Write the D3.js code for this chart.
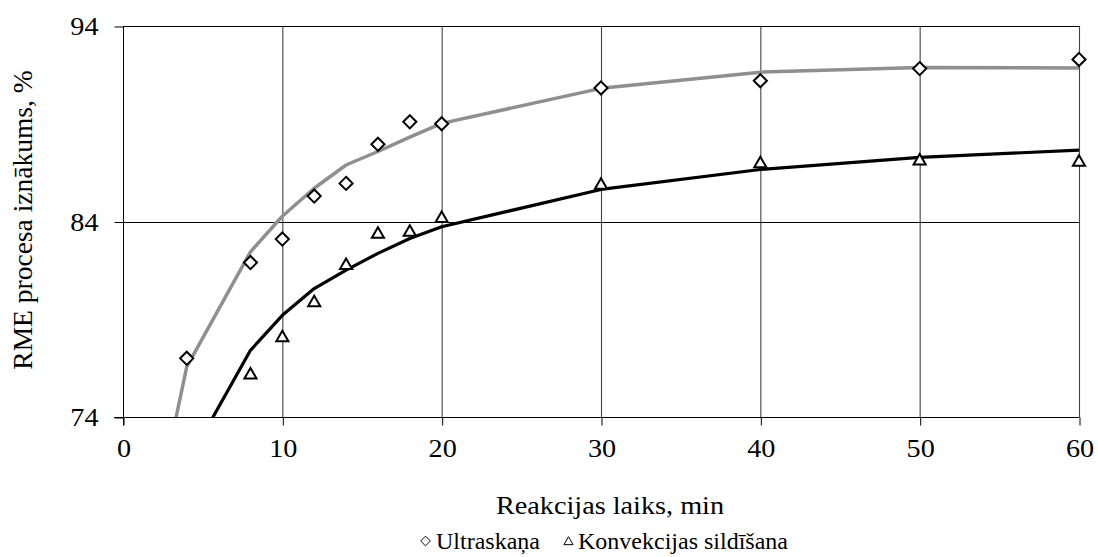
<!DOCTYPE html>
<html>
<head>
<meta charset="utf-8">
<script src="https://cdn.jsdelivr.net/npm/d3@7"></script>
<style>
  html, body { margin: 0; padding: 0; background: #fff; }
  svg { display: block; }
  text { font-family: "Liberation Serif", "Times New Roman", serif; fill: #000; }
</style>
</head>
<body>
<svg id="chart" width="1098" height="557"></svg>
<script>
// Measured yields (%) at each reaction time (min)
const timeUltra = [4, 8, 10, 12, 14, 16, 18, 20, 30, 40, 50, 60];
const yieldUltra = [77.0, 81.9, 83.1, 85.3, 85.95, 87.95, 89.1, 89.0, 90.83, 91.2, 91.82, 92.29];
const timeConv = [8, 10, 12, 14, 16, 18, 20, 30, 40, 50, 60];
const yieldConv = [76.2, 78.1, 79.9, 81.8, 83.4, 83.5, 84.2, 85.9, 87.0, 87.14, 87.08];

// Fitted model curves
const fitTime = [3, 4, 8, 10, 12, 14, 16, 18, 20, 30, 40, 50, 60];
const fitUltra = [72.7, 76.56, 82.45, 84.27, 85.7, 86.89, 87.58, 88.32, 89.02, 90.81, 91.64, 91.88, 91.85];
const fitConv = [70.1, 71.6, 77.41, 79.2, 80.57, 81.51, 82.37, 83.13, 83.73, 85.64, 86.66, 87.28, 87.65];

const xTicks = [0, 10, 20, 30, 40, 50, 60];
const yTicks = [74, 84, 94];

const xLabel = "Reakcijas laiks, min";
const yLabel = "RME procesa iznākums, %";
const legendLabels = ["Ultraskaņa", "Konvekcijas sildīšana"];

const svg = d3.select("#chart");
const plotLeft = 123, plotRight = 1079, plotTop = 26, plotBottom = 417;
const wide = 1.13; // horizontal widening of the serif labels

const x = d3.scaleLinear().domain([0, 60]).range([plotLeft, plotRight]);
const y = d3.scaleLinear().domain([74, 94]).range([plotBottom, plotTop]);

// clip for the curves
svg.append("defs").append("clipPath").attr("id", "plotClip")
  .append("rect").attr("x", plotLeft).attr("y", plotTop)
  .attr("width", plotRight - plotLeft).attr("height", plotBottom - plotTop);

// vertical gridlines
svg.append("g").selectAll("line").data(xTicks.slice(1)).join("line")
  .attr("x1", d => x(d) + 0.5).attr("x2", d => x(d) + 0.5)
  .attr("y1", plotTop).attr("y2", plotBottom)
  .attr("stroke", "#444").attr("stroke-width", 1.1);

// horizontal gridlines
svg.append("g").selectAll("line").data(yTicks.slice(1)).join("line")
  .attr("x1", plotLeft).attr("x2", plotRight)
  .attr("y1", d => Math.round(y(d)) + 0.5).attr("y2", d => Math.round(y(d)) + 0.5)
  .attr("stroke", "#000").attr("stroke-width", 1);

// widen each tick label around its own anchor
function widen(sel) {
  sel.each(function () {
    const t = d3.select(this);
    const tx = +t.attr("x") || 0;
    t.attr("x", 0).attr("transform", `translate(${tx},0) scale(${wide},1)`);
  });
}

// x axis
const xAxis = d3.axisBottom(x).tickValues(xTicks).tickSizeInner(8).tickSizeOuter(0).tickPadding(14);
const gx = svg.append("g").attr("transform", `translate(0.5,${Math.round(plotBottom) + 0.5})`).call(xAxis);
gx.select(".domain").remove();
gx.append("line").attr("x1", plotLeft - 9.5).attr("x2", plotRight).attr("stroke", "#000");
gx.selectAll(".tick line").attr("stroke", "#000");
gx.selectAll(".tick text").attr("font-size", 25).attr("fill", "#000").call(widen);

// y axis
const yAxis = d3.axisLeft(y).tickValues(yTicks).tickSizeInner(9).tickSizeOuter(0).tickPadding(16);
const gy = svg.append("g").attr("transform", `translate(${plotLeft + 0.5},0.5)`).call(yAxis);
gy.select(".domain").attr("stroke", "#000").attr("d", `M0,${plotTop}V${plotBottom + 8}`);
gy.selectAll(".tick line").attr("stroke", "#000");
gy.selectAll(".tick text").attr("font-size", 25).attr("fill", "#000").call(widen);

// fitted curves
const plot = svg.append("g").attr("clip-path", "url(#plotClip)");
const line = d3.line().x(d => x(d[0])).y(d => y(d[1]));
plot.append("path").datum(d3.zip(fitTime, fitUltra))
  .attr("d", line).attr("fill", "none").attr("stroke", "#8f8f8f").attr("stroke-width", 3.5)
  .attr("stroke-linejoin", "round");
plot.append("path").datum(d3.zip(fitTime, fitConv))
  .attr("d", line).attr("fill", "none").attr("stroke", "#000").attr("stroke-width", 3.2)
  .attr("stroke-linejoin", "round");

// measured points
const diamond = d3.symbol().type(d3.symbolDiamond2).size(110);
const triangle = d3.symbol().type(d3.symbolTriangle2).size(105);
svg.append("g").selectAll("path").data(d3.zip(timeUltra, yieldUltra)).join("path")
  .attr("transform", d => `translate(${x(d[0])},${y(d[1])})`)
  .attr("d", diamond).attr("fill", "#fff").attr("stroke", "#000").attr("stroke-width", 2);
svg.append("g").selectAll("path").data(d3.zip(timeConv, yieldConv)).join("path")
  .attr("transform", d => `translate(${x(d[0])},${y(d[1]) + 1})`)
  .attr("d", triangle).attr("fill", "#fff").attr("stroke", "#000").attr("stroke-width", 2);

// axis titles
svg.append("text").attr("transform", `translate(610,514) scale(${wide},1)`).attr("text-anchor", "middle")
  .attr("font-size", 25).text(xLabel);
svg.append("text").attr("transform", "translate(32,220) rotate(-90)").attr("text-anchor", "middle")
  .attr("font-size", 27.5).text(yLabel);

// legend
const lg = svg.append("g");
lg.append("path").attr("transform", "translate(425.5,541)")
  .attr("d", d3.symbol().type(d3.symbolDiamond2).size(60)).attr("fill", "none").attr("stroke", "#000").attr("stroke-width", 1);
lg.append("text").attr("x", 436).attr("y", 549).attr("font-size", 24).text(legendLabels[0]);
lg.append("path").attr("transform", "translate(568.5,542)")
  .attr("d", d3.symbol().type(d3.symbolTriangle2).size(60)).attr("fill", "none").attr("stroke", "#000").attr("stroke-width", 1);
lg.append("text").attr("x", 578).attr("y", 549).attr("font-size", 24).text(legendLabels[1]);
</script>
</body>
</html>
